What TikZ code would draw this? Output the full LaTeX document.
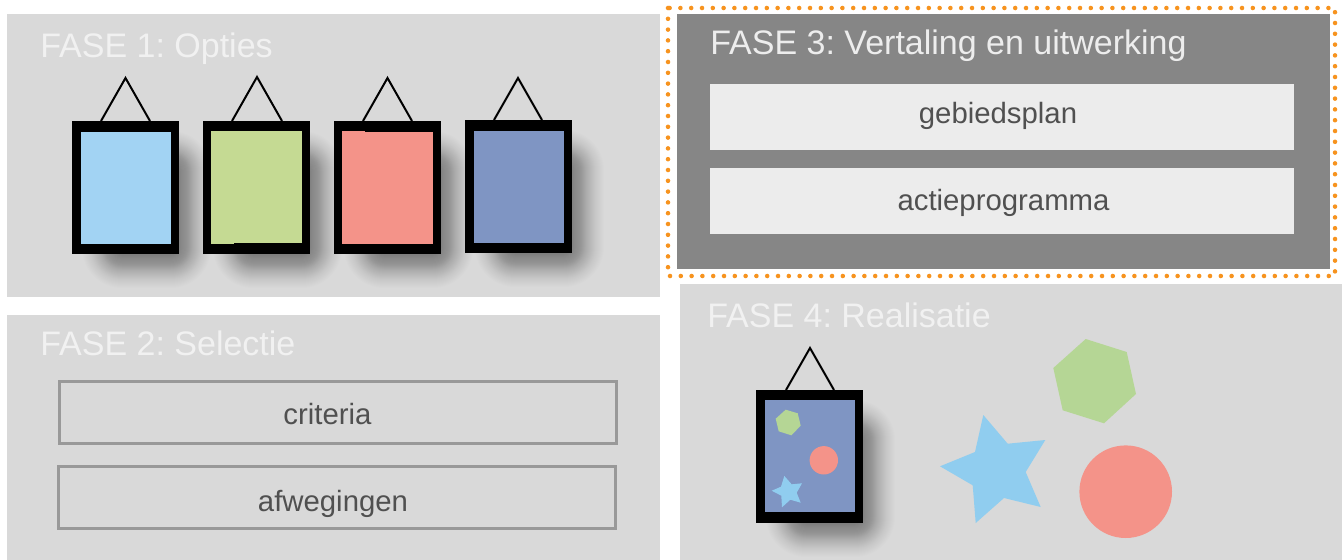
\documentclass[tikz,border=0pt]{standalone}
\usepackage{fontspec}
\setmainfont{Liberation Sans}
\frenchspacing
\definecolor{panelgray}{HTML}{D9D9D9}
\definecolor{panelactive}{HTML}{868686}
\definecolor{boxlight}{HTML}{ECECEC}
\definecolor{boxline}{HTML}{999999}
\definecolor{titlelight}{HTML}{F1F1F1}
\definecolor{boxtext}{HTML}{505050}
\definecolor{dotorange}{HTML}{F7931E}
\definecolor{skyblue}{HTML}{A2D3F3}
\definecolor{leafgreen}{HTML}{C5DA93}
\definecolor{salmon}{HTML}{F49389}
\definecolor{slateblue}{HTML}{7F95C3}
\definecolor{starblue}{HTML}{90CDEF}
\definecolor{hexgreen}{HTML}{B5D695}
\tikzset{
    fasetitle/.style={anchor=base west, inner sep=0pt, font=\fontsize{25.5pt}{30pt}\selectfont},
    boxlabel/.style={anchor=base, inner sep=0pt, text=boxtext, font=\fontsize{22pt}{26pt}\selectfont},
    framehanger/.style={line width=1.5pt, black}
}
% frame with its shadow and hanger, from the top left corner
\newcommand{\pictureframe}[5]{
    \begin{scope}[shift={(#1,#2)}]
        \foreach \k in {0,...,40} {
            \pgfmathsetmacro{\layerop}{0.022*(1-0.0175*\k)}
            \fill[black, opacity=\layerop, rounded corners=\k*0.75pt]
                (50-\k,50-\k) rectangle (99+\k,127+\k);
        }
        \fill[black] (0,0) rectangle (107,133);
        \draw[framehanger] (#3,0) -- (#3/2+#4/2,-#5) -- (#4,0);
    \end{scope}
}
\begin{document}
\begin{tikzpicture}[x=0.75pt, y=-0.75pt]
    \useasboundingbox (0,0) rectangle (1342,560);
    \fill[white] (0,0) rectangle (1342,560);

    % panels
    \fill[panelgray] (7,14) rectangle (660,297);
    \fill[panelgray] (7,315) rectangle (660,560);
    \fill[panelactive] (677,14) rectangle (1330,269);
    \fill[panelgray] (680,284) rectangle (1342,560);
    \draw[dotorange, line width=3.4pt, line cap=round, dash pattern=on 0pt off 8.1pt]
        (668,8) rectangle (1335,276);

    % FASE 1
    \node[fasetitle, text=titlelight] (fase1) at (40,58) {FASE 1: Opties};
    \pictureframe{72}{121}{29}{78}{43}
    \pictureframe{203}{121}{29}{79}{44}
    \pictureframe{334}{121}{29}{78}{43}
    \pictureframe{465}{120}{29}{77}{42}
    \fill[skyblue] (81,132) rectangle (171,244);
    \fill[leafgreen] (211,131) rectangle (302,243);
    \fill[leafgreen] (211,243) rectangle (234,244);
    \fill[salmon] (342,132) rectangle (433,244);
    \fill[salmon] (342,131) rectangle (365,132);
    \fill[slateblue] (474,131) rectangle (564,243);

    % FASE 2
    \node[fasetitle, text=titlelight] (fase2) at (40,355) {FASE 2: Selectie};
    \draw[boxline, line width=2.25pt] (59.5,381.5) rectangle (616.5,443.5);
    \draw[boxline, line width=2.25pt] (58.5,466.5) rectangle (615.5,528.5);
    \node[boxlabel] (criteria) at (327.5,424) {criteria};
    \node[boxlabel] (afwegingen) at (333,511) {afwegingen};

    % FASE 3
    \node[fasetitle, text=white!93!black] (fase3) at (710,55) {FASE 3: Vertaling en uitwerking};
    \fill[boxlight] (710,84) rectangle (1294,150);
    \fill[boxlight] (710,168) rectangle (1294,234);
    \node[boxlabel] (gebiedsplan) at (998,123) {gebiedsplan};
    \node[boxlabel] (actieprogramma) at (1003.5,210) {actieprogramma};

    % FASE 4
    \node[fasetitle, text=titlelight] (fase4) at (707,327) {FASE 4: Realisatie};
    \pictureframe{756}{390}{30}{78}{42}
    \fill[slateblue] (765,400) rectangle (855,512);
    \fill[hexgreen] (785.7,409.7) -- (797.7,413.3) -- (800.7,425.7) -- (791.3,435.3) -- (778.7,431.3) -- (775.7,418.7) -- cycle;
    \fill[salmon] (823.8,460.3) circle[radius=14.2];
    \fill[starblue] (784.3,476) -- (791.7,484.3) -- (802,483.3) -- (796.7,492.7) -- (800.7,502.7) -- (790.3,499.7)
        -- (782,507.3) -- (781.3,495.7) -- (771.7,490.7) -- (781,486.7) -- cycle;
    \fill[hexgreen] (1085.7,339) -- (1126.7,352) -- (1136,394) -- (1104,423.3) -- (1062.7,410.3) -- (1053.3,368) -- cycle;
    \fill[starblue] (983.3,415) -- (1007.7,443.7) -- (1045.3,440) -- (1025.7,472) -- (1040.7,507) -- (1004,498)
        -- (975.7,523) -- (972.7,485.3) -- (940,466.3) -- (975,452) -- cycle;
    \fill[salmon] (1125.7,491.7) circle[radius=46.3];
\end{tikzpicture}
\end{document}
